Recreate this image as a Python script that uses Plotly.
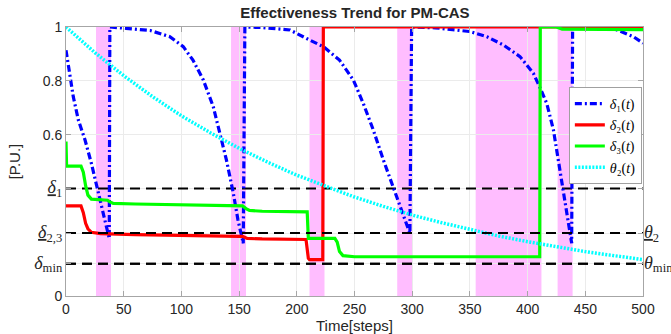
import plotly.graph_objects as go

# ---------------- data ----------------
title = "Effectiveness Trend for PM-CAS"

# delta_1(t)
d1_t = [0, 2, 3.5, 6.3, 10.7, 16.5, 22, 26.6, 31, 35, 37.5,
        38, 52, 60, 73, 90, 101.6, 110, 119, 127.6, 133.5, 139, 145, 149, 153.6,
        155, 170, 185, 194, 211, 223, 237, 249, 257.6, 266.3, 275, 283.6, 292.3, 298,
        299.5, 320, 335, 350, 364.6, 379, 393.4, 405, 411, 416.6, 422.4, 426.7, 431, 435.3, 438.2,
        439, 450, 462, 477, 491.6, 500]
d1_v = [0.914, 0.86, 0.828, 0.741, 0.654, 0.58, 0.493, 0.406, 0.332, 0.258, 0.214,
        1.0, 0.995, 0.993, 0.987, 0.964, 0.927, 0.877, 0.803, 0.704, 0.605, 0.506, 0.382, 0.283, 0.196,
        1.0, 0.998, 0.993, 0.989, 0.952, 0.927, 0.877, 0.803, 0.716, 0.617, 0.506, 0.406, 0.307, 0.233,
        1.0, 0.997, 0.99, 0.983, 0.964, 0.933, 0.89, 0.828, 0.772, 0.716, 0.617, 0.506, 0.382, 0.283, 0.196,
        1.0, 1.0, 0.998, 0.99, 0.964, 0.94]

# delta_2(t)
d2_t = [0, 13, 15, 17, 19, 22, 30, 60, 150, 153, 157, 170, 208, 209, 210, 211, 222.5, 223, 500]
d2_v = [0.335, 0.335, 0.31, 0.27, 0.25, 0.237, 0.232, 0.228, 0.222, 0.222, 0.214, 0.212, 0.21,
        0.18, 0.14, 0.135, 0.135, 1.0, 1.0]

# delta_3(t)
d3_t = [0, 0.5, 13, 15, 17, 19, 22, 30, 36, 38, 41, 60, 150, 153, 156, 159, 170, 209, 210,
        233, 235, 237, 240, 250, 410.5, 411, 425, 430, 500]
d3_v = [0.574, 0.483, 0.483, 0.46, 0.41, 0.375, 0.36, 0.357, 0.356, 0.35, 0.344, 0.342, 0.338,
        0.335, 0.325, 0.318, 0.315, 0.313, 0.214, 0.214, 0.2, 0.165, 0.15, 0.146, 0.146, 1.0, 1.0,
        0.992, 0.99]

# theta_2(t)
th_t = [0, 25, 50, 75, 100, 125, 150, 175, 200, 225, 250, 275, 300, 325, 350, 375, 400,
        425, 450, 475, 500]
th_v = [1.0, 0.905, 0.819, 0.741, 0.670, 0.607, 0.549, 0.497, 0.449, 0.407, 0.368, 0.333,
        0.301, 0.273, 0.247, 0.223, 0.202, 0.183, 0.165, 0.150, 0.135]

# threshold levels
delta_1_level = 0.40
delta_23_level = 0.234
delta_min_level = 0.12
theta_2_level = 0.234
theta_min_level = 0.12

# shaded intervals (steps)
band_start = [26, 143, 211, 287, 355, 426]
band_end = [39, 156, 224, 300, 412, 439]

x_ticks = [0, 50, 100, 150, 200, 250, 300, 350, 400, 450, 500]

# ---------------- figure ----------------
SERIF = "Liberation Serif"


def sym(letter, sub, under=False):
    core = '<span style="text-decoration:underline">%s</span>' % letter if under else letter
    return ('<span style="font-family:%s;font-size:18px"><i>%s</i><sub>%s</sub></span>'
            % (SERIF, core, sub))


fig = go.Figure()

# threshold dashed lines
for lvl in [delta_1_level, delta_23_level, delta_min_level]:
    fig.add_trace(go.Scatter(x=[x_ticks[0], x_ticks[-1]], y=[lvl, lvl], mode="lines",
                             line=dict(color="black", width=2, dash="10px,6px"),
                             showlegend=False, hoverinfo="skip"))
for lvl in [theta_2_level, theta_min_level]:
    fig.add_trace(go.Scatter(x=[x_ticks[0], x_ticks[-1]], y=[lvl, lvl], mode="lines",
                             line=dict(color="black", width=2, dash="10px,6px"),
                             showlegend=False, hoverinfo="skip", yaxis="y2"))

leg_font = dict(family=SERIF, size=14, color="black")
fig.add_trace(go.Scatter(x=d1_t, y=d1_v, mode="lines", name="<i>δ</i>₁(<i>t</i>)",
                         line=dict(color="#0000ff", width=3.2, dash="7px,3px,2px,3px")))
fig.add_trace(go.Scatter(x=d2_t, y=d2_v, mode="lines", name="<i>δ</i>₂(<i>t</i>)",
                         line=dict(color="#ff0000", width=3.2)))
fig.add_trace(go.Scatter(x=d3_t, y=d3_v, mode="lines", name="<i>δ</i>₃(<i>t</i>)",
                         line=dict(color="#00ff00", width=3.2)))
fig.add_trace(go.Scatter(x=th_t, y=th_v, mode="lines", name="<i>θ</i>₂(<i>t</i>)",
                         line=dict(color="#00ffff", width=3.5, dash="2px,1.5px")))

for a, b in zip(band_start, band_end):
    fig.add_shape(type="rect", x0=a, x1=b, y0=0, y1=1, xref="x", yref="y",
                  fillcolor="rgba(255,0,255,0.26)", line=dict(width=0), layer="below")

axis_col = "#a6a6a6"
tick_font = dict(family="Liberation Sans", size=14, color="#262626")

fig.add_annotation(text="Time[steps]", xref="paper", yref="paper", x=0.5, y=-0.108,
                   xanchor="center", yanchor="middle", showarrow=False,
                   font=dict(family="Liberation Sans", size=15, color="#262626"))

fig.update_layout(
    width=671, height=334,
    margin=dict(l=66, r=28, t=27, b=38, autoexpand=False),
    paper_bgcolor="white", plot_bgcolor="white",
    title=dict(text="<b>%s</b>" % title, x=0.529, xanchor="center", y=0.962, yanchor="middle",
               font=dict(family="Liberation Sans", size=15, color="#262626")),
    showlegend=True,
    legend=dict(x=0.998, xanchor="right", y=0.777, yanchor="top",
                bgcolor="white", bordercolor="#a0a0a0", borderwidth=1,
                font=leg_font, itemwidth=30, tracegroupgap=0),
    xaxis=dict(range=[0, 500], tickvals=x_ticks, ticktext=[str(v) for v in x_ticks],
               showgrid=True, gridcolor="#ebebeb", gridwidth=1, zeroline=False,
               showline=True, linecolor=axis_col, linewidth=1, mirror="ticks",
               ticks="inside", ticklen=5, tickcolor=axis_col, tickfont=tick_font,
               automargin=False),
    yaxis=dict(range=[0, 1],
               tickvals=[0, delta_min_level, delta_23_level, delta_1_level, 0.6, 0.8, 1],
               ticktext=["0", sym("δ", "min"), sym("δ", "2,3", True), sym("δ", "1", True),
                         "0.6", "0.8", "1"],
               showgrid=True, gridcolor="#ebebeb", gridwidth=1, zeroline=False,
               showline=True, linecolor=axis_col, linewidth=1, mirror="ticks",
               ticks="inside", ticklen=5, tickcolor=axis_col, tickfont=tick_font,
               title=dict(text="[P.U.]", font=dict(family="Liberation Sans", size=15,
                                                   color="#262626"), standoff=9),
               automargin=False),
    yaxis2=dict(range=[0, 1], overlaying="y", side="right",
                tickvals=[theta_min_level, theta_2_level],
                ticktext=[sym("θ", "min"), sym("θ", "2", True)],
                showgrid=False, zeroline=False, showline=False, ticks="",
                tickfont=tick_font, automargin=False),
)

fig.write_html("out.html")
